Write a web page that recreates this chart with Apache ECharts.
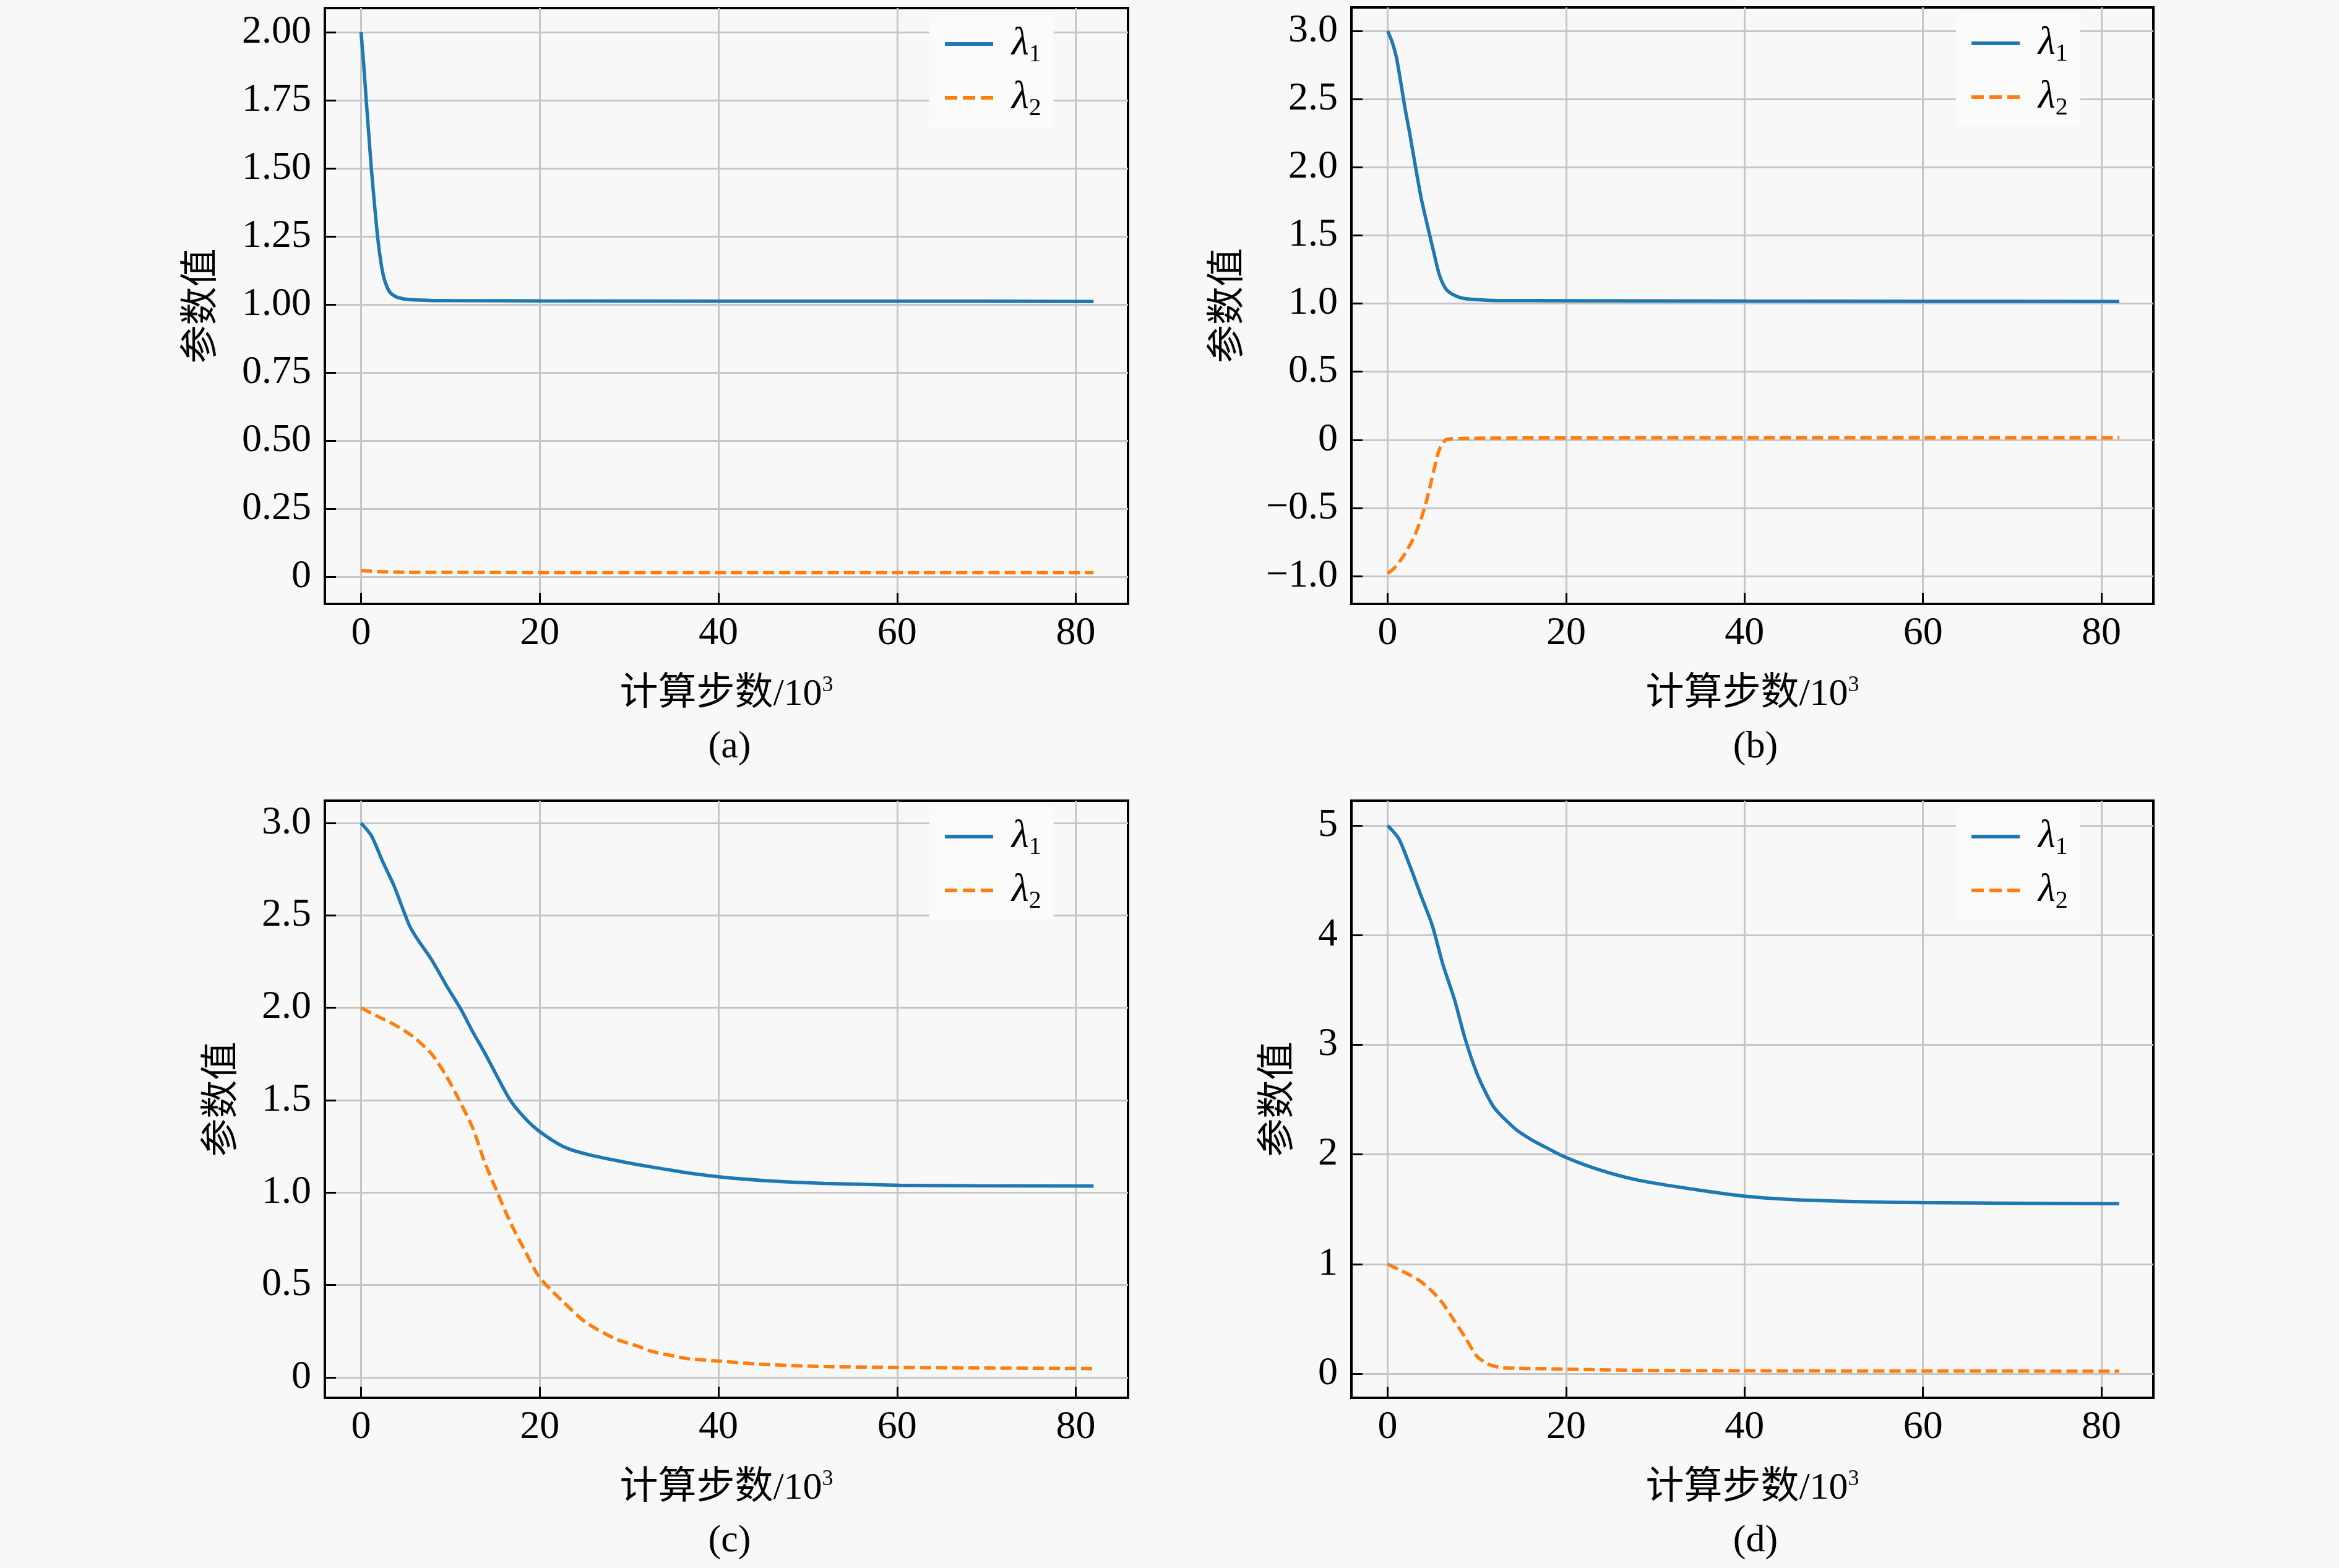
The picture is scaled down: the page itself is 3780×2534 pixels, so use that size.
<!DOCTYPE html>
<html><head><meta charset="utf-8">
<script src="https://cdn.jsdelivr.net/npm/echarts@6/dist/echarts.min.js"></script>
<style>html,body{margin:0;padding:0;background:#f8f8f8}#c{width:3780px;height:2534px}</style>
</head><body><div id="c"></div><script>
// ---------- data (steps in 10^3) ----------
const xTicks = [0, 20, 40, 60, 80];

const stepsA   = [0, 0.3, 0.58, 0.9, 1.15, 1.5, 1.85, 2.2, 2.54, 2.9, 3.23, 3.7, 4.15, 5.3, 7.6, 10, 20, 40, 60, 82];
const lambda1A = [2.0, 1.88, 1.75, 1.61, 1.50, 1.37, 1.25, 1.16, 1.10, 1.065, 1.045, 1.032, 1.025, 1.018, 1.015, 1.014, 1.013, 1.012, 1.012, 1.011];
const lambda2A = [0.022, 0.022, 0.021, 0.021, 0.020, 0.020, 0.019, 0.019, 0.018, 0.018, 0.018, 0.017, 0.017, 0.016, 0.016, 0.016, 0.015, 0.015, 0.015, 0.015];
const yTicksA  = [0, 0.25, 0.5, 0.75, 1.0, 1.25, 1.5, 1.75, 2.0];

const stepsB   = [0, 0.5, 0.97, 1.43, 1.9, 2.47, 3.05, 3.74, 4.43, 5.12, 5.8, 6.5, 7.2, 8.35, 10, 12.3, 20, 40, 60, 82];
const lambda1B = [3.0, 2.92, 2.81, 2.64, 2.45, 2.25, 2.03, 1.78, 1.58, 1.39, 1.21, 1.11, 1.07, 1.04, 1.028, 1.022, 1.021, 1.018, 1.016, 1.015];
const lambda2B = [-0.98, -0.955, -0.925, -0.885, -0.84, -0.775, -0.70, -0.58, -0.43, -0.24, -0.07, 0.0, 0.008, 0.01, 0.012, 0.013, 0.014, 0.015, 0.015, 0.015];
const yTicksB  = [-1.0, -0.5, 0, 0.5, 1.0, 1.5, 2.0, 2.5, 3.0];

const stepsC   = [0, 1.17, 2.43, 3.69, 5.37, 6.2, 7.9, 9.56, 11.2, 12.5, 13.8, 15.0, 16.7, 18.4, 20, 22.6, 25.1, 28.4, 30.9, 32.6, 35.1, 36.8, 40.2, 45.2, 51.9, 60.3, 68.7, 82];
const lambda1C = [3.0, 2.93, 2.79, 2.66, 2.45, 2.38, 2.26, 2.12, 1.99, 1.87, 1.76, 1.65, 1.50, 1.40, 1.33, 1.25, 1.21, 1.175, 1.152, 1.138, 1.118, 1.105, 1.085, 1.065, 1.05, 1.04, 1.037, 1.035];
const lambda2C = [2.0, 1.97, 1.94, 1.91, 1.86, 1.83, 1.75, 1.63, 1.48, 1.35, 1.17, 1.03, 0.84, 0.68, 0.54, 0.41, 0.30, 0.21, 0.17, 0.14, 0.115, 0.10, 0.088, 0.07, 0.059, 0.054, 0.051, 0.048];
const yTicksC  = [0, 0.5, 1.0, 1.5, 2.0, 2.5, 3.0];

const stepsD   = [0, 1.25, 2.5, 3.74, 5.0, 6.2, 7.5, 8.7, 10.0, 11.2, 12.0, 12.9, 14.5, 16.0, 17.0, 19.9, 23.7, 27.8, 32.8, 39.9, 47.8, 59.8, 82];
const lambda1D = [5.0, 4.88, 4.63, 4.36, 4.09, 3.73, 3.41, 3.05, 2.74, 2.53, 2.42, 2.34, 2.22, 2.14, 2.095, 1.975, 1.86, 1.77, 1.70, 1.62, 1.58, 1.56, 1.55];
const lambda2D = [1.0, 0.95, 0.90, 0.84, 0.75, 0.64, 0.48, 0.33, 0.16, 0.09, 0.068, 0.054, 0.05, 0.047, 0.046, 0.042, 0.036, 0.031, 0.029, 0.027, 0.025, 0.024, 0.023];
const yTicksD  = [0, 1, 2, 3, 4, 5];

const captions = ['(a)', '(b)', '(c)', '(d)'];
const xName = '计算步数/10';
const yName = '参数值';
const seriesNames = ['λ1', 'λ2'];

// ---------- layout ----------
const layout = [
  {left: 525,  top: 13,   width: 1298, height: 963, xMin: -4.05, xMax: 85.85, yMin: -0.1,   yMax: 2.0886, dec: 2, nameGap: 166, steps: stepsA, l1: lambda1A, l2: lambda2A, yt: yTicksA},
  {left: 2184, top: 12,   width: 1296, height: 964, xMin: -4.06, xMax: 85.82, yMin: -1.204, yMax: 3.1725, dec: 1, nameGap: 166, steps: stepsB, l1: lambda1B, l2: lambda2B, yt: yTicksB},
  {left: 525,  top: 1294, width: 1298, height: 965, xMin: -4.05, xMax: 85.85, yMin: -0.1105,yMax: 3.1205, dec: 1, nameGap: 133, steps: stepsC, l1: lambda1C, l2: lambda2C, yt: yTicksC},
  {left: 2184, top: 1294, width: 1296, height: 965, xMin: -4.06, xMax: 85.82, yMin: -0.220, yMax: 5.226,  dec: 0, nameGap: 85,  steps: stepsD, l1: lambda1D, l2: lambda2D, yt: yTicksD}
];

const SERIF = '"Liberation Serif", "Times New Roman", serif';
const CJK = '"Liberation Serif", "Noto Sans CJK SC", serif';
const BLUE = '#1f77b4', ORANGE = '#ff7f0e';
const ICON_SOLID = 'path://M0,0h78v6h-78z';
const ICON_DASH = 'path://M0,0h20v6h-20z M29,0h20v6h-20z M58,0h20v6h-20z';

function fmt(v, d) {
  if (Math.abs(v) < 1e-9) return '0';
  return v < 0 ? '\u2212' + Math.abs(v).toFixed(d) : v.toFixed(d);
}

const grid = [], xAxis = [], yAxis = [], series = [], legend = [], title = [];
layout.forEach((p, i) => {
  grid.push({left: p.left, top: p.top, width: p.width, height: p.height, show: true,
    backgroundColor: '#f8f8f8', borderColor: '#000', borderWidth: 4, containLabel: false});
  xAxis.push({
    type: 'value', gridIndex: i, min: p.xMin, max: p.xMax,
    axisLine: {show: false, onZero: false},
    axisTick: {show: true, inside: true, length: 18, lineStyle: {color: '#000', width: 3}, customValues: xTicks},
    axisLabel: {customValues: xTicks, margin: 16, fontFamily: SERIF, fontSize: 64, color: '#000', formatter: v => String(Math.round(v))},
    splitLine: {show: true, lineStyle: {color: '#c6c6c6', width: 3}},
    name: '{t|' + xName + '}{s|3}', nameLocation: 'middle', nameGap: 112,
    nameTextStyle: {rich: {
      t: {fontFamily: CJK, fontSize: 62, color: '#000', lineHeight: 70},
      s: {fontFamily: SERIF, fontSize: 36, color: '#000', lineHeight: 36, padding: [0, 0, 30, 0]}
    }}
  });
  yAxis.push({
    type: 'value', gridIndex: i, min: p.yMin, max: p.yMax,
    axisLine: {show: false, onZero: false},
    axisTick: {show: true, inside: true, length: 18, lineStyle: {color: '#000', width: 3}, customValues: p.yt},
    axisLabel: {customValues: p.yt, margin: 22, fontFamily: SERIF, fontSize: 64, color: '#000', formatter: v => fmt(v, p.dec)},
    splitLine: {show: true, lineStyle: {color: '#c6c6c6', width: 3}},
    name: yName, nameLocation: 'middle', nameGap: p.nameGap,
    nameTextStyle: {fontFamily: CJK, fontSize: 62, color: '#000'}
  });
  const d1 = p.steps.map((x, k) => [x, p.l1[k]]);
  const d2 = p.steps.map((x, k) => [x, p.l2[k]]);
  series.push({type: 'line', name: seriesNames[0], xAxisIndex: i, yAxisIndex: i, data: d1,
    symbol: 'none', smooth: 0.25, lineStyle: {color: BLUE, width: 5.5}, itemStyle: {color: BLUE}, z: 3});
  series.push({type: 'line', name: seriesNames[1], xAxisIndex: i, yAxisIndex: i, data: d2,
    symbol: 'none', smooth: 0.25, lineStyle: {color: ORANGE, width: 5.5, type: [18, 8]}, itemStyle: {color: ORANGE}, z: 3});
  legend.push({
    orient: 'vertical', left: p.left + 977, top: p.top + 11,
    data: [{name: seriesNames[0], icon: ICON_SOLID}, {name: seriesNames[1], icon: ICON_DASH}],
    selectedMode: false,
    itemWidth: 78, itemHeight: 6, itemGap: 13,
    padding: [10, 20, 10, 25], backgroundColor: '#fbfbfb', borderWidth: 0,
    formatter: n => '{l|λ}{s|' + n.slice(1) + '}',
    textStyle: {rich: {
      l: {fontFamily: SERIF, fontStyle: 'italic', fontSize: 64, color: '#000', lineHeight: 70, padding: [0, 0, 0, 25]},
      s: {fontFamily: SERIF, fontSize: 40, color: '#000', lineHeight: 40, padding: [34, 0, 0, 0]}
    }}
  });
  title.push({
    text: captions[i], left: p.left + p.width / 2, top: p.top + p.height + 196, textAlign: 'center',
    textStyle: {fontFamily: SERIF, fontSize: 62, fontWeight: 'normal', color: '#000'}
  });
});

const chart = echarts.init(document.getElementById('c'), null, {renderer: 'canvas'});
chart.setOption({
  backgroundColor: '#f8f8f8', animation: false,
  grid, xAxis, yAxis, series, legend, title
});
</script></body></html>
